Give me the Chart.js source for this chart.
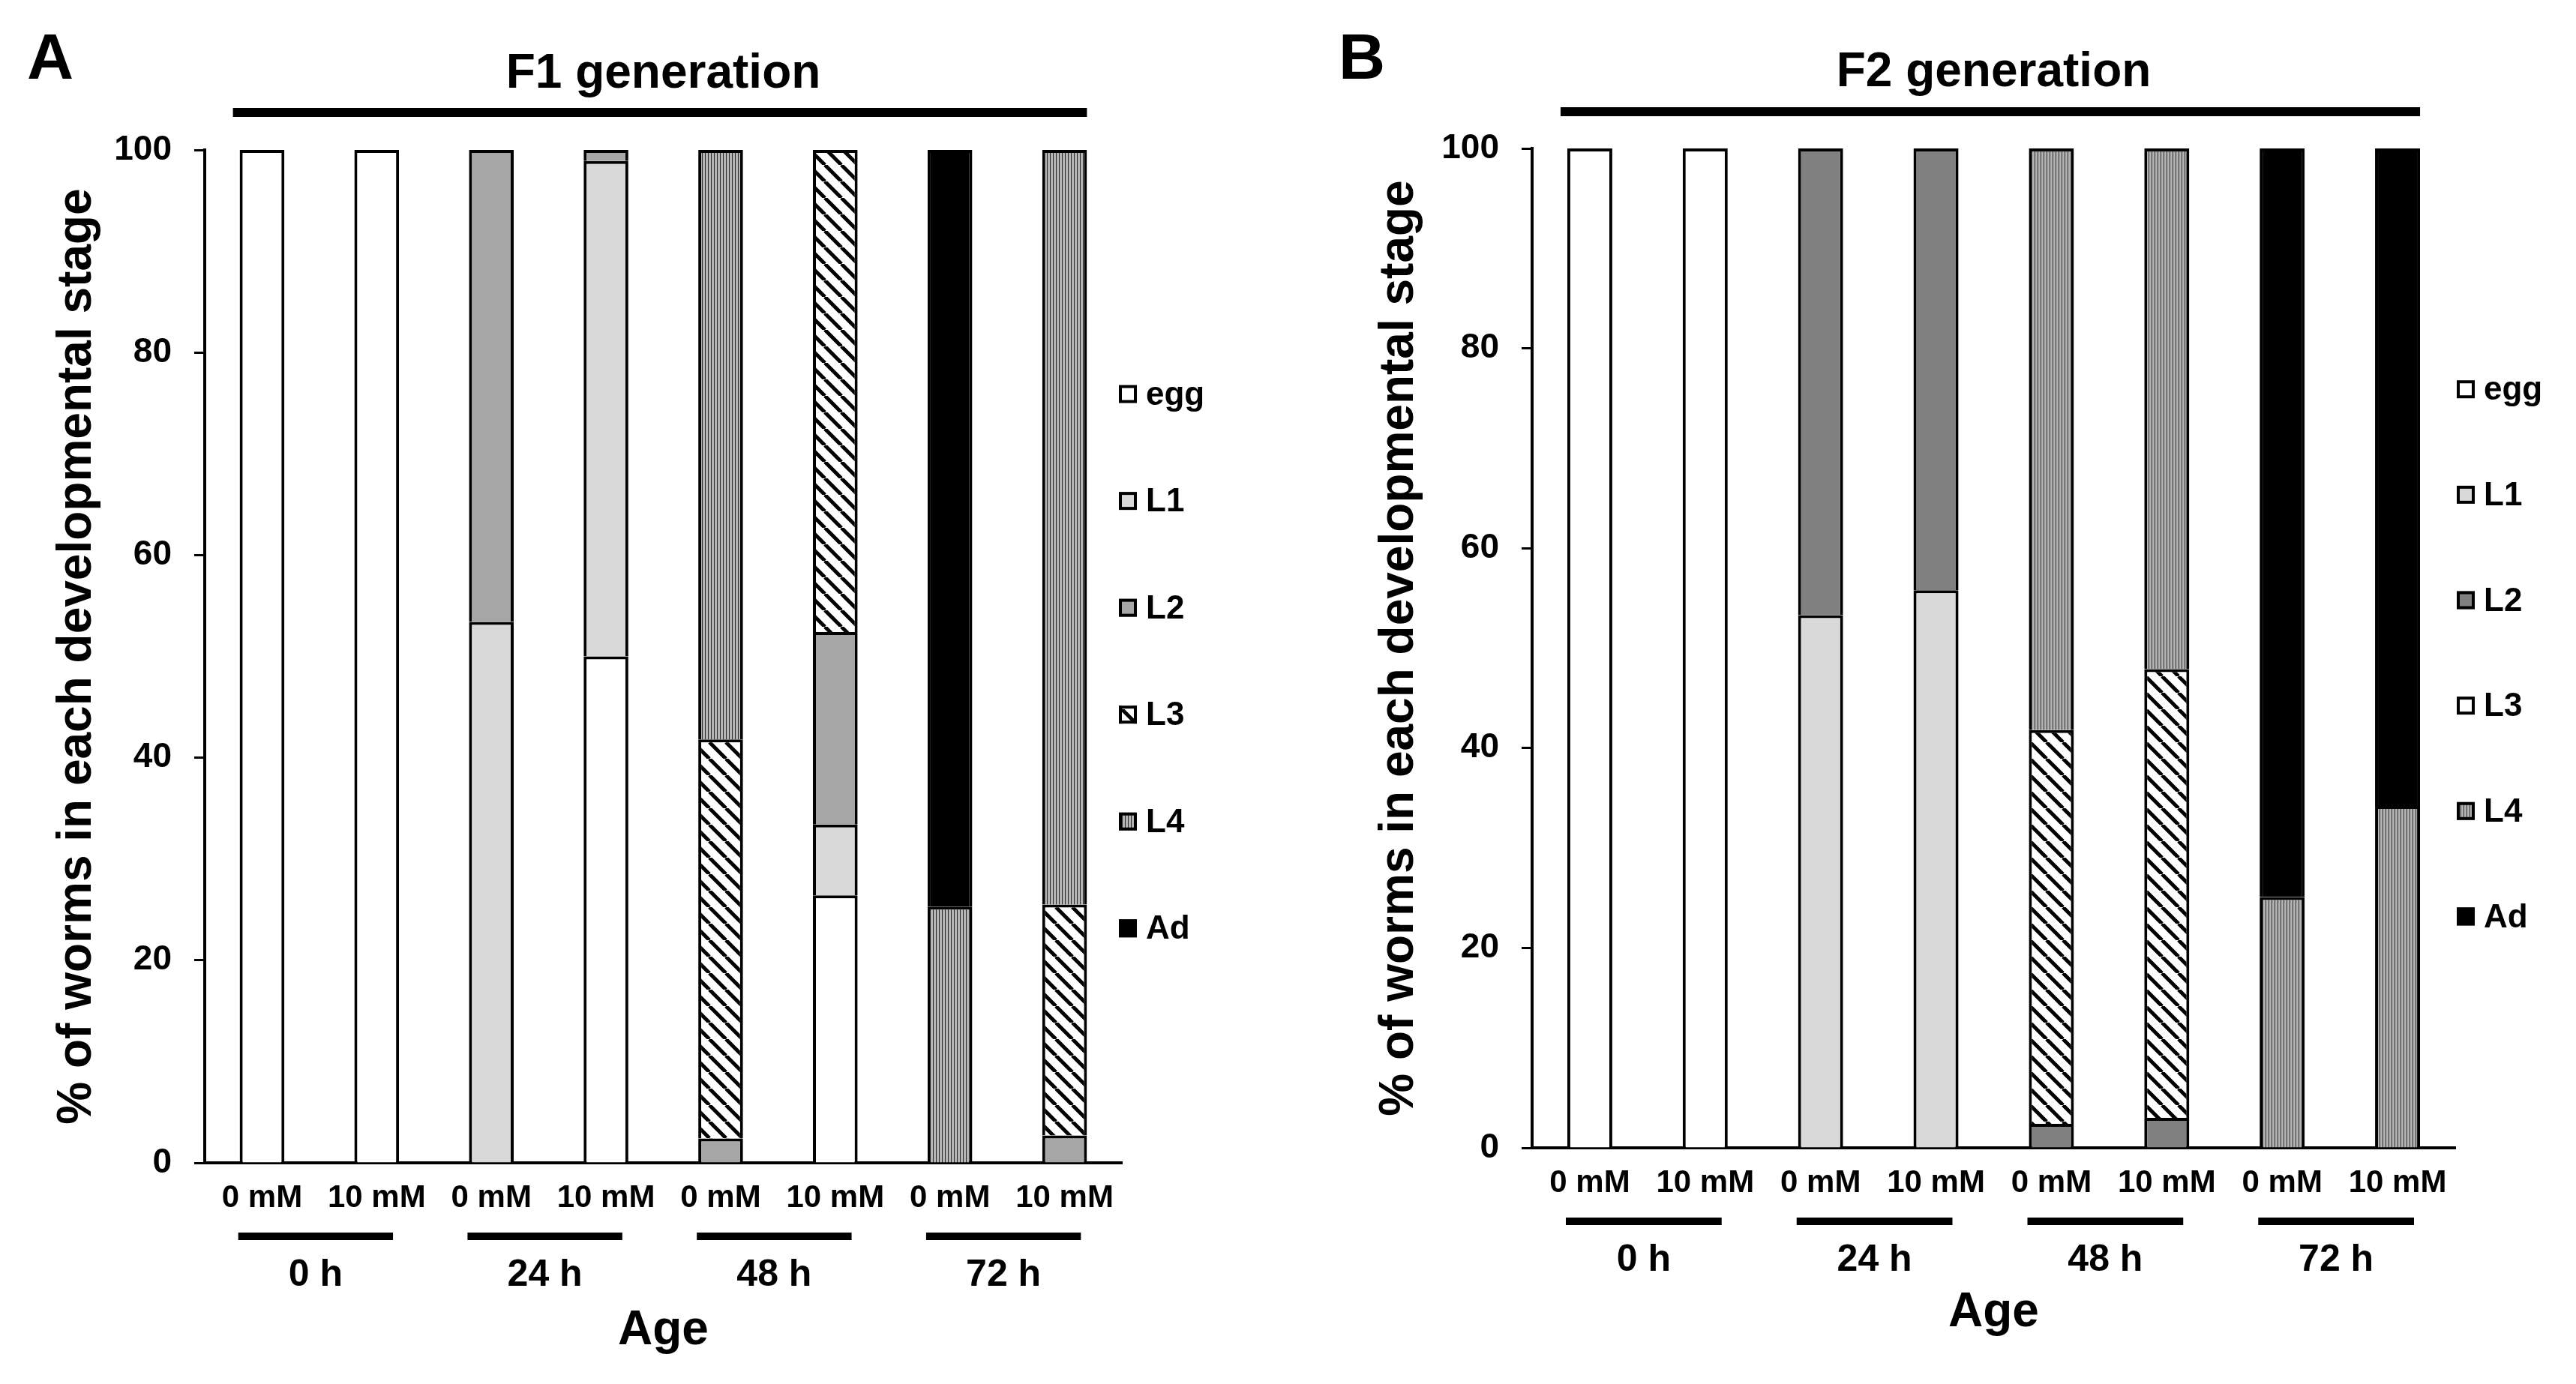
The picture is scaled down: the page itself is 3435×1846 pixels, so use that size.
<!DOCTYPE html>
<html>
<head>
<meta charset="utf-8">
<script src="https://cdn.jsdelivr.net/npm/chart.js"></script>
<style>
  html, body { margin: 0; padding: 0; background: #fff; }
  #wrap { position: relative; width: 3435px; height: 1846px; overflow: hidden; }
  canvas { position: absolute; top: 0; }
</style>
</head>
<body>
<div id="wrap">
  <canvas id="chartA" width="1717" height="1846" style="left:0px"></canvas>
  <canvas id="chartB" width="1718" height="1846" style="left:1717px"></canvas>
</div>
<script>
    // Categories and tick labels
    const doses = ['0 mM', '10 mM', '0 mM', '10 mM', '0 mM', '10 mM', '0 mM', '10 mM'];
    const ages = ['0 h', '24 h', '48 h', '72 h'];
    const stages = ['egg', 'L1', 'L2', 'L3', 'L4', 'Ad'];
    const yTicks = [0, 20, 40, 60, 80, 100];

    // F1 generation (% of worms per stage)
    const f1Egg = [100, 100, 0, 50, 0, 26.4, 0, 0];
    const f1L1 = [0, 0, 53.4, 48.9, 0, 7.0, 0, 0];
    const f1L2 = [0, 0, 46.6, 1.1, 2.4, 19.0, 0, 2.7];
    const f1L3 = [0, 0, 0, 0, 39.4, 47.6, 0, 22.8];
    const f1L4 = [0, 0, 0, 0, 58.2, 0, 25.3, 74.5];
    const f1Ad = [0, 0, 0, 0, 0, 0, 74.7, 0];

    // F2 generation
    const f2Egg = [100, 100, 0, 0, 0, 0, 0, 0];
    const f2L1 = [0, 0, 53.3, 55.8, 0, 0, 0, 0];
    const f2L2 = [0, 0, 46.7, 44.2, 2.4, 3.0, 0, 0];
    const f2L3 = [0, 0, 0, 0, 39.4, 44.9, 0, 0];
    const f2L4 = [0, 0, 0, 0, 58.2, 52.1, 25.1, 34.2];
    const f2Ad = [0, 0, 0, 0, 0, 0, 74.9, 65.8];

    const FONT = '"Liberation Sans", Arial, sans-serif';
    const BAR_PCT = 0.39;
    Chart.defaults.font.family = FONT;
    Chart.defaults.color = '#000';

    // diagonal hatch (\\\) on white
    function hatch(ctx, size, lw) {
        const c = document.createElement('canvas');
        c.width = size; c.height = size;
        const g = c.getContext('2d');
        g.fillStyle = '#fff';
        g.fillRect(0, 0, size, size);
        g.strokeStyle = '#000';
        g.lineWidth = lw;
        g.beginPath();
        for (let k = -1; k <= 1; k++) {
            g.moveTo(k * size, 0);
            g.lineTo(k * size + size, size);
        }
        g.stroke();
        return ctx.createPattern(c, 'repeat');
    }

    // fine vertical lines on grey
    function vlines(ctx, bg, fg) {
        const c = document.createElement('canvas');
        c.width = 4; c.height = 4;
        const g = c.getContext('2d');
        g.fillStyle = bg;
        g.fillRect(0, 0, 4, 4);
        g.fillStyle = fg;
        g.fillRect(0, 0, 1, 4);
        return ctx.createPattern(c, 'repeat');
    }

    // panel letter, title, group bars, custom legend
    const overlay = {
        id: 'overlay',
        afterDraw(chart) {
            const p = chart.options.plugins.overlay;
            const ctx = chart.ctx;
            const a = chart.chartArea;
            const x = chart.scales.x;
            const step = x.getPixelForValue(1) - x.getPixelForValue(0);
            const bw = step * BAR_PCT;
            ctx.save();
            ctx.fillStyle = '#000';
            ctx.textBaseline = 'middle';

            ctx.textAlign = 'left';
            ctx.font = 'bold 86px ' + FONT;
            ctx.fillText(p.letter, p.letterX, p.letterY);

            ctx.textAlign = 'center';
            ctx.font = 'bold 64px ' + FONT;
            ctx.fillText(p.title, (a.left + a.right) / 2, p.titleY);
            const lx0 = x.getPixelForValue(0) - bw / 2 - 9;
            const lx1 = x.getPixelForValue(doses.length - 1) + bw / 2;
            ctx.fillRect(lx0, p.lineY - 6, lx1 - lx0, 12);

            ctx.font = 'bold 50px ' + FONT;
            ages.forEach((lab, g) => {
                const c = (x.getPixelForValue(2 * g) + x.getPixelForValue(2 * g + 1)) / 2 - 5;
                const half = step * 0.675;
                ctx.fillRect(c - half, a.bottom + 98 - 5, 2 * half, 10);
                ctx.fillText(lab, c, a.bottom + 150);
            });

            // legend
            const h = a.bottom - a.top;
            ctx.font = 'bold 44px ' + FONT;
            ctx.textAlign = 'left';
            chart.data.datasets.forEach((ds, i) => {
                const cy = a.top + h * (0.241 + 0.1055 * i);
                const bx = a.right + p.legendDx;
                ctx.fillStyle = (p.legendFill && p.legendFill[i]) || ds.backgroundColor;
                ctx.fillRect(bx, cy - 12, 24, 24);
                ctx.strokeStyle = '#000';
                ctx.lineWidth = 4;
                ctx.strokeRect(bx + 2, cy - 10, 20, 20);
                ctx.fillStyle = '#000';
                ctx.fillText(ds.label, bx + 36, cy + 2);
            });
            ctx.restore();
        }
    };

    function makePanel(cfg) {
        const canvas = document.getElementById(cfg.id);
        const ctx = canvas.getContext('2d');
        const fills = [
            '#ffffff',
            '#d9d9d9',
            cfg.l2Color,
            hatch(ctx, 22, 5),
            vlines(ctx, cfg.l4Bg, '#2a2a2a'),
            '#000000'
        ];
        const datasets = cfg.series.map((vals, i) => ({
            label: stages[i],
            data: vals,
            backgroundColor: fills[i],
            borderColor: '#000',
            borderWidth: 4,
            barPercentage: BAR_PCT,
            categoryPercentage: 1.0
        }));

        return new Chart(ctx, {
            type: 'bar',
            data: { labels: doses, datasets: datasets },
            plugins: [overlay],
            options: {
                responsive: false,
                animation: false,
                devicePixelRatio: 1,
                layout: {
                    padding: { left: 0, top: cfg.top, right: canvas.width - cfg.right, bottom: 0 }
                },
                plugins: {
                    legend: { display: false },
                    tooltip: { enabled: false },
                    overlay: cfg.overlay
                },
                scales: {
                    x: {
                        stacked: true,
                        grid: { display: false, drawTicks: false },
                        border: { display: true, color: '#000', width: 4 },
                        ticks: {
                            font: { size: 42, weight: 'bold' },
                            color: '#000',
                            padding: 22,
                            maxRotation: 0,
                            autoSkip: false
                        },
                        title: {
                            display: true,
                            text: 'Age',
                            font: { size: 64, weight: 'bold' },
                            color: '#000',
                            padding: { top: 0, bottom: cfg.ageBottomPad }
                        },
                        afterFit: s => { s.height = canvas.height - cfg.bottom; }
                    },
                    y: {
                        stacked: true,
                        min: 0,
                        max: 100,
                        afterBuildTicks: s => { s.ticks = yTicks.map(v => ({ value: v })); },
                        grid: {
                            drawOnChartArea: false,
                            drawTicks: true,
                            tickLength: 14,
                            tickWidth: 3,
                            tickColor: '#000'
                        },
                        border: { display: true, color: '#000', width: 4 },
                        ticks: {
                            font: { size: 46, weight: 'bold' },
                            color: '#000',
                            padding: 30
                        },
                        title: {
                            display: true,
                            text: '% of worms in each developmental stage',
                            font: { size: 64, weight: 'bold' },
                            color: '#000',
                            padding: { top: cfg.yTitlePad, bottom: 0 }
                        },
                        afterFit: s => { s.width = cfg.left; }
                    }
                }
            }
        });
    }

    makePanel({
        id: 'chartA',
        series: [f1Egg, f1L1, f1L2, f1L3, f1L4, f1Ad],
        l2Color: '#a6a6a6',
        l4Bg: '#b4b4b4',
        left: 273, top: 200, right: 1496, bottom: 1551,
        yTitlePad: 65,
        ageBottomPad: 32,
        overlay: {
            letter: 'A', letterX: 36, letterY: 81,
            title: 'F1 generation', titleY: 99, lineY: 150,
            legendDx: -4
        }
    });

    makePanel({
        id: 'chartB',
        series: [f2Egg, f2L1, f2L2, f2L3, f2L4, f2Ad],
        l2Color: '#808080',
        l4Bg: '#b4b4b4',
        left: 326, top: 198, right: 1557, bottom: 1531,
        yTitlePad: 111,
        ageBottomPad: 56,
        overlay: {
            letter: 'B', letterX: 68, letterY: 81,
            title: 'F2 generation', titleY: 97, lineY: 149,
            legendDx: 2,
            legendFill: [null, null, null, '#ffffff', null, null]
        }
    });
</script>
</body>
</html>
